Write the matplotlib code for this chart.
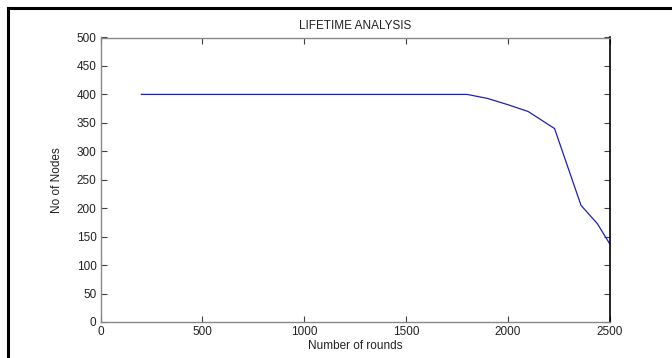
import matplotlib
matplotlib.use("Agg")
import matplotlib.pyplot as plt
from matplotlib.lines import Line2D

rounds = [200, 1800, 1900, 2000, 2100, 2230, 2360, 2440, 2500]
nodes = [400, 400, 393, 382, 370, 340, 205, 173, 138]
xticks = [0, 500, 1000, 1500, 2000, 2500]
yticks = [0, 50, 100, 150, 200, 250, 300, 350, 400, 450, 500]

plt.rcParams['font.family'] = ['Liberation Sans', 'DejaVu Sans']

W, H = 672, 358
fig = plt.figure(figsize=(W / 100, H / 100), dpi=100)
l, r, t, b = 100.7, 609.5, 37.5, 322
ax = fig.add_axes([l / W, 1 - b / H, (r - l) / W, (b - t) / H])

ax.plot(rounds, nodes, color='#2020b0', lw=0.9)
ax.set_xlim(0, 2500)
ax.set_ylim(0, 500)
ax.set_xticks(xticks)
ax.set_yticks(yticks)
ax.tick_params(direction='in', length=4, width=0.8, top=True, right=True,
               labelsize=8.5, colors='#404040', labelcolor='#222222', pad=3)
for s in ['left', 'top', 'bottom']:
    ax.spines[s].set_color('#888888')
    ax.spines[s].set_linewidth(1.0)
ax.spines['right'].set_color('black')
ax.spines['right'].set_linewidth(1.2)

ax.set_title('LIFETIME ANALYSIS', fontsize=8.5, color='#222222', pad=6)
ax.set_xlabel('Number of rounds', fontsize=8.5, color='#222222', labelpad=1)
ax.set_ylabel('No of Nodes', fontsize=8.5, color='#222222', labelpad=10)

# outer frame lines
fig.add_artist(Line2D([7.5 / W, 7.5 / W], [0, 1 - 7.5 / H], color='black', lw=2.2,
                      transform=fig.transFigure))
fig.add_artist(Line2D([7.5 / W, 1], [1 - 7.5 / H, 1 - 7.5 / H], color='black', lw=2.2,
                      transform=fig.transFigure))

fig.savefig('out.png', dpi=100)
